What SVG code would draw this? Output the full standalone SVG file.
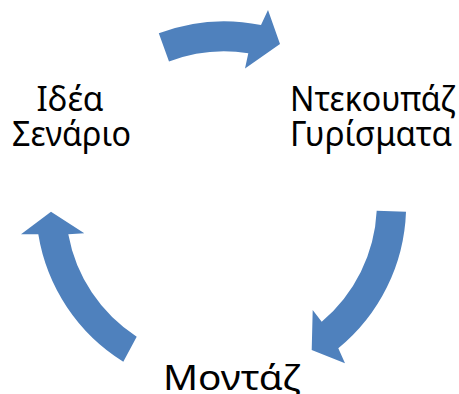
<svg xmlns="http://www.w3.org/2000/svg" width="459" height="394" viewBox="0 0 459 394">
<style>
.arrow{fill:#4F81BD;stroke:none}
.lbl{font-family:"Noto Sans","Open Sans","DejaVu Sans",sans-serif;font-size:34px;fill:#000;text-anchor:middle}
</style>
<rect width="459" height="394" fill="#fff"/>
<g id="connectors">
<path class="arrow" d="M158.8,33.3 A185,185 0 0 1 261,25 L268,10 L280,44 L245,68.5 L248.3,53.3 A155,155 0 0 0 169,61.6 Z"/>
<path class="arrow" d="M406,211.7 A185,185 0 0 1 338.3,348.3 L345,363.3 L311.7,350 L312.7,310 L321.7,321.7 A155,155 0 0 0 376.7,210.7 Z"/>
<path class="arrow" d="M123.3,361.7 A185,185 0 0 1 38.3,234.3 L21,234.3 L51,211.7 L84.3,233.3 L68.3,234.3 A155,155 0 0 0 136.7,336.7 Z"/>
</g>
<g id="node-idea">
<text class="lbl" x="70" y="111" textLength="67" lengthAdjust="spacingAndGlyphs">Ιδέα</text>
<text class="lbl" x="71.5" y="146" textLength="119" lengthAdjust="spacingAndGlyphs">Σενάριο</text>
</g>
<g id="node-decoupage">
<text class="lbl" x="372.5" y="111" textLength="165" lengthAdjust="spacingAndGlyphs">Ντεκουπάζ</text>
<text class="lbl" x="371" y="146" textLength="162" lengthAdjust="spacingAndGlyphs">Γυρίσματα</text>
</g>
<g id="node-montage">
<text class="lbl" x="231.5" y="390" textLength="137" lengthAdjust="spacingAndGlyphs">Μοντάζ</text>
</g>
</svg>
